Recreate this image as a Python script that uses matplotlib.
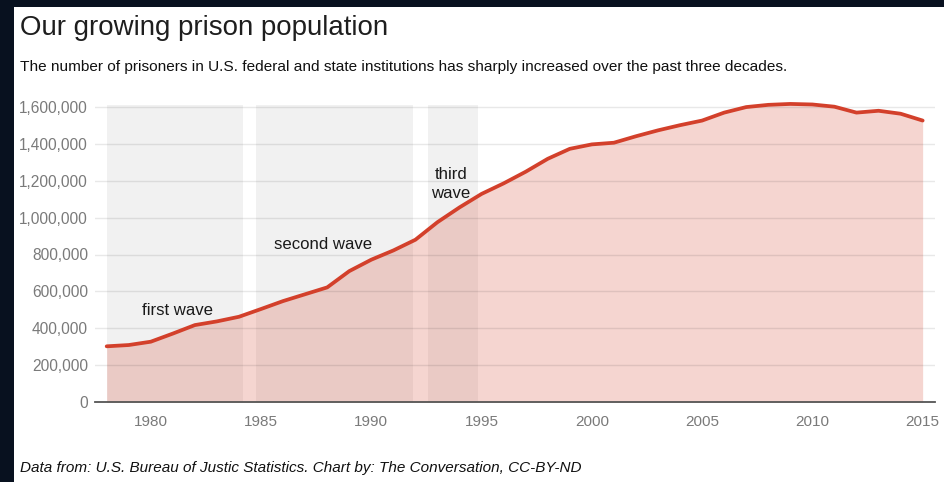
import matplotlib
matplotlib.use("Agg")
import matplotlib.pyplot as plt
from matplotlib.patches import Rectangle
from matplotlib.ticker import FuncFormatter

# Prisoners in U.S. federal and state institutions, by year
years = list(range(1978, 2016))
prisoners = [
    303000, 310000, 328000, 372000, 418000, 438000, 463000, 505000,
    548000, 585000, 622000, 710000, 772000, 822000, 880000, 975000,
    1055000, 1128000, 1185000, 1248000, 1318000, 1372000, 1396000, 1405000,
    1440000, 1472000, 1500000, 1525000, 1568000, 1598000, 1610000, 1615000,
    1612000, 1600000, 1568000, 1578000, 1562000, 1525000,
]

# Shaded periods of growth
wave_starts = [1978.0, 1984.75, 1992.55]
wave_ends = [1984.2, 1991.88, 1994.82]
wave_top = 1610000

wave_labels = ["first wave", "second wave", "third\nwave"]
wave_label_x = [1981.2, 1987.8, 1993.6]
wave_label_y = [472000, 830000, 1104000]

y_ticks = [0, 200000, 400000, 600000, 800000, 1000000, 1200000, 1400000, 1600000]
x_ticks = [1980, 1985, 1990, 1995, 2000, 2005, 2010, 2015]

FONT = "Liberation Sans"
LINE_RED = "#d3402b"
NAVY = "#08111f"

W, H = 944, 482
fig = plt.figure(figsize=(W / 100, H / 100), dpi=100)
fig.patch.set_facecolor("white")

# dark frame strips on the left and top
fig.patches.append(Rectangle((0, 0), 14 / W, 1, transform=fig.transFigure,
                             facecolor=NAVY, edgecolor="none", zorder=0))
fig.patches.append(Rectangle((0, 1 - 7 / H), 1, 7 / H, transform=fig.transFigure,
                             facecolor=NAVY, edgecolor="none", zorder=0))

ax_left, ax_right = 95, 935
ax_bottom_px = 402.3
ymax = 1660000
px_per_unit = 295.6 / 1600000
ax_top_px = ax_bottom_px - ymax * px_per_unit
ax = fig.add_axes([ax_left / W, (H - ax_bottom_px) / H,
                   (ax_right - ax_left) / W, (ax_bottom_px - ax_top_px) / H])
ax.set_facecolor("white")

ax.set_xlim(1977.47, 2015.56)
ax.set_ylim(0, ymax)

for s, e in zip(wave_starts, wave_ends):
    ax.fill_between([s, e], 0, wave_top, color="#f1f1f1", linewidth=0, zorder=1)

ax.fill_between(years, 0, prisoners, color=LINE_RED, alpha=0.22, linewidth=0, zorder=2)

for t in y_ticks[1:]:
    ax.axhline(t, color=(0, 0, 0, 0.09), linewidth=1.0, zorder=3)

ax.plot(years, prisoners, color=LINE_RED, linewidth=2.7, solid_joinstyle="round",
        solid_capstyle="round", zorder=4, clip_on=False)

for label, lx, ly in zip(wave_labels, wave_label_x, wave_label_y):
    ax.text(lx, ly, label, ha="center", va="baseline", multialignment="center",
            fontsize=12.1, family=FONT, color="#1a1a1a", linespacing=1.35, zorder=5)

for side in ("top", "right", "left"):
    ax.spines[side].set_visible(False)
ax.spines["bottom"].set_color("#555555")
ax.spines["bottom"].set_linewidth(1.3)
ax.spines["bottom"].set_zorder(6)

ax.set_yticks(y_ticks)
ax.yaxis.set_major_formatter(FuncFormatter(lambda v, p: f"{int(v):,}"))
ax.set_xticks(x_ticks)
ax.tick_params(axis="y", length=0, pad=5, labelsize=11.2, labelcolor="#7a7a7a")
ax.tick_params(axis="x", length=0, pad=9, labelsize=11, labelcolor="#7a7a7a")
for lab in ax.get_xticklabels() + ax.get_yticklabels():
    lab.set_family(FONT)

fig.text(20 / W, 1 - 35 / H, "Our growing prison population", family=FONT,
         fontsize=19.9, color="#1e1e1e", va="baseline", ha="left")
fig.text(20 / W, 1 - 71 / H,
         "The number of prisoners in U.S. federal and state institutions has sharply "
         "increased over the past three decades.",
         family=FONT, fontsize=11.1, color="#111111", va="baseline", ha="left")
fig.text(20 / W, 1 - 472 / H,
         "Data from: U.S. Bureau of Justic Statistics. Chart by: The Conversation, CC-BY-ND",
         family=FONT, fontsize=11.0, style="italic", color="#111111",
         va="baseline", ha="left")

fig.savefig("out.png", dpi=100, facecolor=fig.get_facecolor())
